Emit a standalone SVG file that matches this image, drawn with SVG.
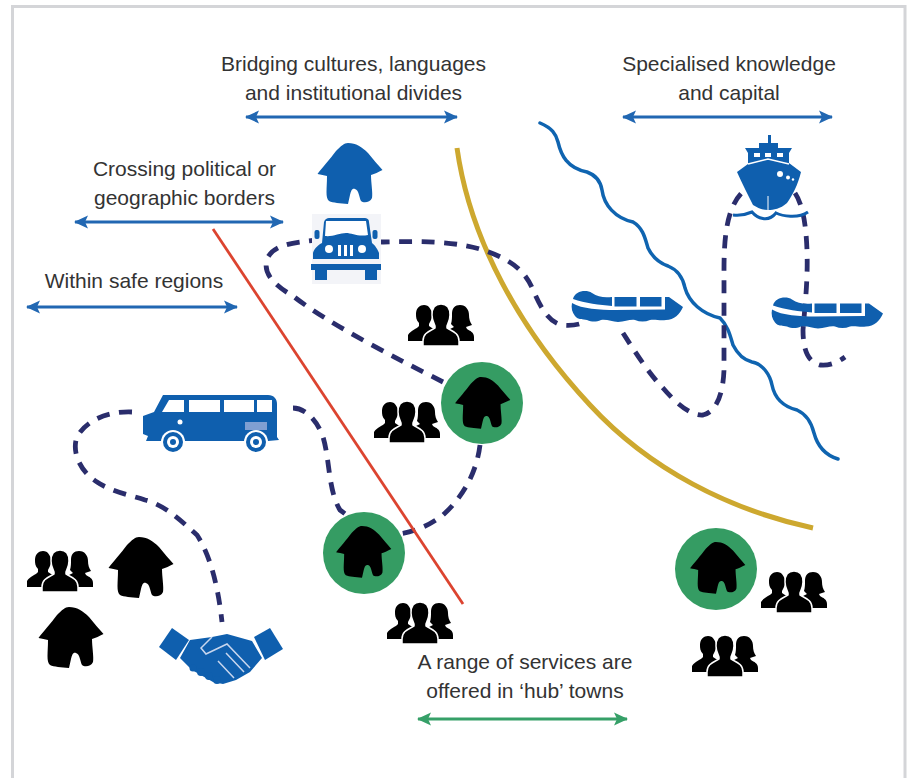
<svg xmlns="http://www.w3.org/2000/svg" xmlns:xlink="http://www.w3.org/1999/xlink" width="909" height="778" viewBox="0 0 909 778">
<style>
text{font-family:"Liberation Sans",Arial,sans-serif;font-size:21px;fill:#333;text-anchor:middle}
.dash{fill:none;stroke:#2a2d6c;stroke-width:4.800;stroke-dasharray:13 9.500}
.arr{stroke:#2167b2;stroke-width:2.800;marker-start:url(#ab);marker-end:url(#ab)}
.arg{stroke:#36a068;stroke-width:3.200;marker-start:url(#ag);marker-end:url(#ag)}
.b{fill:#0f5fae}.w{fill:#fff}.hub{fill:#359c63}
</style>
<defs>
<marker id="ab" viewBox="0 0 16 14" markerUnits="userSpaceOnUse" markerWidth="16" markerHeight="14" refX="15" refY="7" orient="auto-start-reverse"><path d="M16,7 L2,0.5 L5,7 L2,13.5Z" fill="#2167b2"/></marker>
<marker id="ag" viewBox="0 0 16 14" markerUnits="userSpaceOnUse" markerWidth="16" markerHeight="14" refX="15" refY="7" orient="auto-start-reverse"><path d="M16,7 L2,0.5 L5,7 L2,13.5Z" fill="#36a068"/></marker>
<path id="house" d="M0,0 C8,0 14,4 20,10 C25,16 30,22 34.500,27 C30,29 27,31 23,32 C23,40 25,50 24,55 C22,60 15,60 13,58 C11,54 11,47 7,46 C4,45 3,48 2,52 L0,61 C-8,60 -15,60 -19,58 C-23,55 -21,45 -21,33 C-24,32 -27,32 -30.500,31 C-26,25 -18,16 -12,8 C-7,3 -4,0 0,0Z"/>
<g id="people">
<path d="M-17,1 C-12,1 -9,6 -9,11 C-9,15 -11,18 -12,20 L-12,22 L-3,28 L-14,34 L-12,37 L-33,37 L-33,31 C-30,26 -24,25 -22,22 L-22,19 C-25,16 -25,13 -25,10 C-25,4 -21,1 -17,1Z"/>
<path d="M19,1 C25,1 28,6 28,11 C28,15 29,18 31,21 L25,23 L26,25 C29,27 33,28 33,33 L33,37 L12,37 L14,34 L3,28 L13,23 L10,20 C11,17 11,13 11,10 C11,4 14,1 19,1Z"/>
<path d="M0,0 C7,0 9,5 9,11 C9,16 7,19 6,22 L6,24 C10,27 18,28 18,37 L18,42 L-18,42 L-18,37 C-18,28 -10,27 -6,24 L-6,22 C-7,19 -9,16 -9,11 C-9,5 -7,0 0,0Z" stroke="#fff" stroke-width="1.500"/>
</g>
<g id="barge" class="b">
<path d="M573,299 C575,291 586,289 592,293 C598,297 604,298 612,297 L612,306 C600,305 585,303 573,299Z"/>
<rect x="614.500" y="297" width="22" height="9.500"/>
<rect x="640" y="297" width="21.500" height="9.500"/>
<path d="M572,303 C582,309 600,310 615,310 L665,309.500 L665,297 L669,297 L683,307 C680,314 674,320 666,320 C660,321 655,319 650,320 C645,322 640,322 635,320 C630,319 625,322 618,322 C612,322 607,319 601,320 C596,322 592,322 587,320 C583,319 578,320 575,316 C572,312 571,308 572,303Z"/>
</g>
</defs>
<rect id="frame" x="12.500" y="6.500" width="892.500" height="790" fill="#fff" stroke="#d4d5d8" stroke-width="3"/>

<g id="connectors">
<path id="river" d="M540,123 C552,128 556,134 558,142 C561,155 567,168 587,172 C598,176 601,184 602,190 C604,205 615,218 633,222 C643,228 645,238 648,248 C654,260 662,264 668,266 C678,270 683,278 685,288 C689,302 702,314 720,318 C728,326 730,335 733,345 C738,355 744,360 752,362 C763,364 770,375 772,385 C775,400 785,407 797,410 C808,415 812,425 814,433 C818,448 828,456 838,459" fill="none" stroke="#0f64b0" stroke-width="3.500" stroke-linecap="round"/>
<path id="border-gold" d="M457,148 C470,240 520,330 590,405 C650,470 730,510 813,528" fill="none" stroke="#cda82f" stroke-width="5"/>
<path class="dash" d="M443,382 C400,360 330,325 293,296 C270,283 262,270 268,257 C275,245 290,243 317,240 L383,242 C420,241 455,241 483,250 C510,259 525,270 533,290 C540,306 548,322 562,325 C570,326 578,325 585,322"/>
<path class="dash" d="M623,333 C635,352 650,375 663,388 C675,402 690,416 703,415 C716,412 723,395 724,370 L724,270 C724,240 726,205 745,190"/>
<path class="dash" d="M795,193 C803,205 806,225 807,250 C808,280 805,305 803,330 C803,350 808,362 820,365 C830,366 838,362 845,357"/>
<path class="dash" d="M132,412 C105,411 85,422 77,437 C72,450 78,470 97,482 C112,492 130,495 145,500 C165,505 180,520 197,535 C210,555 218,585 222,622"/>
<path class="dash" d="M293,408 C305,408 317,420 323,437 C330,460 328,490 340,510 L348,516"/>
<path class="dash" d="M480,445 C477,470 465,495 443,515 C430,525 415,532 398,534"/>
<line id="border-red" x1="213" y1="229" x2="463" y2="604" stroke="#dc4430" stroke-width="2.800"/>
<line class="arr" x1="246" y1="117" x2="457" y2="117"/>
<line class="arr" x1="75" y1="222" x2="283" y2="222"/>
<line class="arr" x1="27" y1="307" x2="237" y2="307"/>
<line class="arr" x1="623" y1="117" x2="832" y2="117"/>
<line class="arg" x1="418" y1="719" x2="627" y2="719"/>
</g>

<g id="label-bridging"><text x="353.500" y="71">Bridging cultures, languages</text><text x="353.500" y="100">and institutional divides</text></g>
<g id="label-specialised"><text x="729" y="71">Specialised knowledge</text><text x="729" y="100">and capital</text></g>
<g id="label-crossing"><text x="184.500" y="176">Crossing political or</text><text x="184.500" y="205">geographic borders</text></g>
<g id="label-within"><text x="134" y="288">Within safe regions</text></g>
<g id="label-hub"><text x="525" y="669">A range of services are</text><text x="525" y="698">offered in ‘hub’ towns</text></g>

<g id="house-blue"><use xlink:href="#house" href="#house" x="348" y="143" class="b"/></g>

<g id="jeep">
<rect x="312" y="214" width="69" height="70" fill="#f3f4f8"/>
<g class="b">
<path d="M322,243 L324,222 C325,219 327,218 329,218 L364,218 C367,218 369,219 369,222 L372,243 C375,245 378,250 379,253 L379,259 L313,259 L313,253 C314,249 318,245 322,243Z"/>
<rect x="314.500" y="230" width="5" height="9" rx="2"/><rect x="372.500" y="230" width="5" height="9" rx="2"/>
<rect x="311" y="264" width="70" height="6"/>
<rect x="315" y="270" width="12" height="10"/><rect x="365" y="270" width="12" height="10"/>
</g>
<path d="M326,221 L366,221 L368,235 C358,237 352,233 346,233 C340,233 332,237 325,236Z" class="w"/>
<circle cx="329" cy="249" r="4" class="w"/><circle cx="362" cy="249" r="4" class="w"/>
<g class="w"><rect x="338" y="245" width="3" height="11"/><rect x="344" y="245" width="3" height="11"/><rect x="350" y="245" width="3" height="11"/></g>
</g>

<g id="ship">
<path class="b" d="M768,135 h3 v8 h7 v5 h14 l-3,5 v10 l12,9 C798,185 792,196 787,203 C780,209 774,210 768,210 C762,210 758,208 753,205 C748,195 742,183 737,172 L748,164 v-11 l-3,-5 h14 v-5 h9Z"/>
<g class="w"><rect x="754" y="153" width="6" height="4"/><rect x="765" y="153" width="6" height="4"/><rect x="777" y="153" width="6" height="4"/>
<circle cx="780" cy="174" r="3"/><circle cx="788" cy="177.500" r="2"/><circle cx="793" cy="179.500" r="1.200"/></g>
<path d="M748,164 L768,159 L789,164" fill="none" stroke="#fff" stroke-width="1.500"/>
<path d="M768,196 V210" stroke="#fff" stroke-width="1"/>
<path d="M733,215 C740,216 745,215 752,212 C757,218 768,223 776,213 C782,216 798,219 808,212" fill="none" stroke="#0f5fae" stroke-width="3"/>
</g>

<g id="barge-1"><use xlink:href="#barge" href="#barge"/></g>
<g id="barge-2"><use xlink:href="#barge" href="#barge" x="200" y="6.500"/></g>

<g id="hub-1"><circle cx="482" cy="403" r="41" class="hub"/><use xlink:href="#house" href="#house" transform="translate(481,377) scale(.85)"/></g>
<g id="hub-2"><circle cx="364" cy="553" r="41" class="hub"/><use xlink:href="#house" href="#house" transform="translate(362,526) scale(.85)"/></g>
<g id="hub-3"><circle cx="716" cy="569" r="41" class="hub"/><use xlink:href="#house" href="#house" transform="translate(716,542) scale(.85)"/></g>

<g id="people-1"><use xlink:href="#people" href="#people" x="441" y="304"/></g>
<g id="people-2"><use xlink:href="#people" href="#people" x="407" y="401"/></g>
<g id="people-3"><use xlink:href="#people" href="#people" x="420" y="602"/></g>
<g id="people-4"><use xlink:href="#people" href="#people" x="794" y="571"/></g>
<g id="people-5"><use xlink:href="#people" href="#people" x="725" y="635"/></g>
<g id="people-6"><use xlink:href="#people" href="#people" x="60" y="550"/></g>
<g id="house-black-1"><use xlink:href="#house" href="#house" x="139" y="537"/></g>
<g id="house-black-2"><use xlink:href="#house" href="#house" x="69" y="607"/></g>

<g id="van">
<path class="b" d="M163,395 L268,395 C274,395 277,399 277,404 L277,437 L279,440 L268,441 L185,441 L160,441 L146,441 L148,436 L143,434 L143,416 L154,412 Z"/>
<g class="w"><path d="M169,400 L184,400 L184,412 L162,412Z"/><rect x="189" y="400" width="31" height="12"/><rect x="224" y="400" width="30" height="12"/><rect x="257" y="400" width="15" height="12"/><circle cx="180" cy="422" r="2.500"/></g>
<rect x="245" y="422" width="22" height="8" fill="#7f9fd2"/>
<g><circle cx="173" cy="442" r="12" class="w"/><circle cx="173" cy="442" r="10" class="b"/><circle cx="173" cy="442" r="6" class="w"/><circle cx="173" cy="442" r="3" class="b"/>
<circle cx="256" cy="442" r="12" class="w"/><circle cx="256" cy="442" r="10" class="b"/><circle cx="256" cy="442" r="6" class="w"/><circle cx="256" cy="442" r="3" class="b"/></g>
</g>

<g id="handshake">
<g class="b">
<path d="M172,628 L189,640 L176,660 L159,647Z"/>
<path d="M270,628 L283,649 L265,660 L254,637Z"/>
<path d="M190,640 L212,637 L227,634 L252,641 L262,658 L250,672 L236,680 L223,684 L213,682 L192,670 L180,658Z"/>
<circle cx="193" cy="668" r="3.500"/><circle cx="201" cy="672" r="4"/><circle cx="209" cy="676" r="4"/><circle cx="217" cy="680" r="4"/>
</g>
<path d="M212,637 L201,648 L206,654 L227,644 L250,668 M226,653 L244,672 M218,661 L234,678" fill="none" stroke="#c8d6ee" stroke-width="1.500"/>
</g>
</svg>
